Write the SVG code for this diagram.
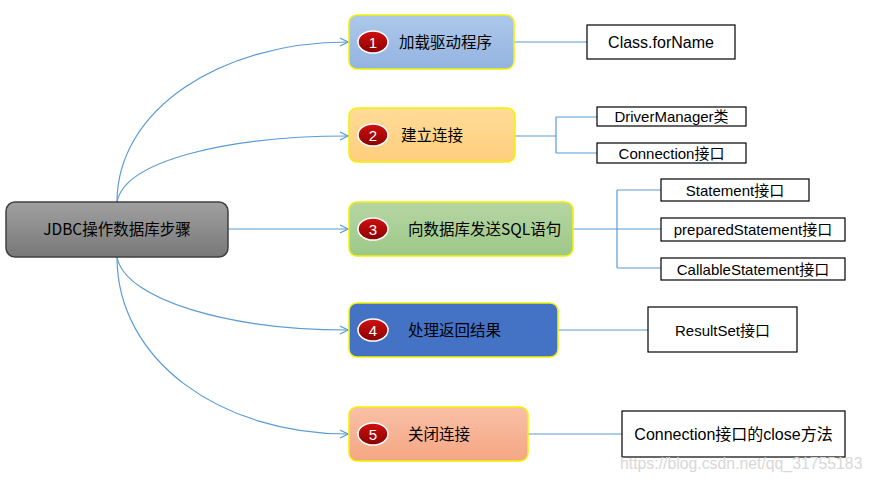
<svg xmlns="http://www.w3.org/2000/svg" width="873" height="482" viewBox="0 0 873 482">
<defs>
<linearGradient id="gMain" x1="0" y1="0" x2="0" y2="1"><stop offset="0" stop-color="#a0a0a0"/><stop offset="1" stop-color="#787878"/></linearGradient>
<linearGradient id="g1" x1="0" y1="0" x2="0" y2="1"><stop offset="0" stop-color="#adc8ea"/><stop offset="1" stop-color="#93b3e0"/></linearGradient>
<linearGradient id="g2" x1="0" y1="0" x2="0" y2="1"><stop offset="0" stop-color="#ffdc98"/><stop offset="1" stop-color="#ffce7c"/></linearGradient>
<linearGradient id="g3" x1="0" y1="0" x2="0" y2="1"><stop offset="0" stop-color="#b6d6a4"/><stop offset="1" stop-color="#9dc887"/></linearGradient>
<linearGradient id="g5" x1="0" y1="0" x2="0" y2="1"><stop offset="0" stop-color="#f9c0a6"/><stop offset="1" stop-color="#f4a683"/></linearGradient>
<linearGradient id="gBadge" x1="0" y1="0" x2="0" y2="1"><stop offset="0" stop-color="#d01010"/><stop offset="1" stop-color="#8a0000"/></linearGradient>
<marker id="arr" markerWidth="10" markerHeight="10" refX="9" refY="5" orient="auto" markerUnits="userSpaceOnUse">
<path d="M1,1 L9,5 L1,9" fill="none" stroke="#5b9bd5" stroke-width="1.2"/>
</marker>
</defs>
<style>
.conn{fill:none;stroke:#5b9bd5;stroke-width:1.2}
.step{stroke:#f2f200;stroke-width:1.5}
.badge{fill:url(#gBadge);stroke:#ffffff;stroke-width:1.5}
.num{font-family:"Liberation Sans","Noto Sans",sans-serif;font-size:15px;fill:#ffffff;text-anchor:middle}
.lbl{font-family:"Noto Sans CJK SC","Noto Sans",sans-serif;font-size:15.5px;fill:#000000}
.leaf{fill:#ffffff;stroke:#000000;stroke-width:1.2}
.ltxt{font-family:"Liberation Sans","Noto Sans CJK SC",sans-serif;font-size:15px;fill:#000000;text-anchor:middle}
.big{font-size:16px}
.wm{font-family:"Liberation Sans",sans-serif;font-size:15.8px;fill:#d8d8d8}
</style>
<rect width="873" height="482" fill="#ffffff"/>
<g id="connectors">
<path class="conn" d="M117,202 C117,110 220,42 348,42" marker-end="url(#arr)"/>
<path class="conn" d="M117,202 C125,160 230,136 348,136" marker-end="url(#arr)"/>
<path class="conn" d="M228,229 L348,229" marker-end="url(#arr)"/>
<path class="conn" d="M117,257 C125,300 230,330 348,330" marker-end="url(#arr)"/>
<path class="conn" d="M117,257 C117,360 220,434 348,434" marker-end="url(#arr)"/>
<path class="conn" d="M514,42 L587,42"/>
<path class="conn" d="M515,136 L556,136 M556,117 L556,153 M556,117 L597,117 M556,153 L597,153"/>
<path class="conn" d="M573,229 L661,229 M617,190 L617,268 M617,190 L661,190 M617,268 L661,268"/>
<path class="conn" d="M558,330 L648,330"/>
<path class="conn" d="M528,434 L622,434"/>
</g>
<g id="main">
<rect x="6" y="202" width="222" height="55" rx="9" fill="url(#gMain)" stroke="#404040" stroke-width="1.5"/>
<text class="lbl" x="117" y="235" text-anchor="middle" fill="#1a1a1a">JDBC操作数据库步骤</text>
</g>
<g id="step1">
<rect class="step" x="349" y="15" width="165" height="54" rx="8" fill="url(#g1)"/>
<ellipse class="badge" cx="373" cy="42" rx="15" ry="11"/>
<text class="num" x="373" y="47.5">1</text>
<text class="lbl" x="399" y="47.5">加载驱动程序</text>
</g>
<g id="step2">
<rect class="step" x="349" y="108" width="166" height="54" rx="8" fill="url(#g2)"/>
<ellipse class="badge" cx="373" cy="135" rx="15" ry="11"/>
<text class="num" x="373" y="140.5">2</text>
<text class="lbl" x="401" y="140.5">建立连接</text>
</g>
<g id="step3">
<rect class="step" x="349" y="202" width="224" height="54" rx="8" fill="url(#g3)"/>
<ellipse class="badge" cx="373" cy="229" rx="15" ry="11"/>
<text class="num" x="373" y="234.5">3</text>
<text class="lbl" x="408" y="234.5">向数据库发送SQL语句</text>
</g>
<g id="step4">
<rect class="step" x="349" y="303" width="209" height="54" rx="8" fill="#4472c4"/>
<ellipse class="badge" cx="373" cy="330" rx="15" ry="11"/>
<text class="num" x="373" y="335.5">4</text>
<text class="lbl" x="408" y="335.5">处理返回结果</text>
</g>
<g id="step5">
<rect class="step" x="349" y="407" width="179" height="54" rx="8" fill="url(#g5)"/>
<ellipse class="badge" cx="373" cy="434" rx="15" ry="11"/>
<text class="num" x="373" y="439.5">5</text>
<text class="lbl" x="408" y="439.5">关闭连接</text>
</g>
<g id="leaf-classforname">
<rect class="leaf" x="587" y="25" width="148" height="34"/>
<text class="ltxt big" x="661" y="47.5">Class.forName</text>
</g>
<g id="leaf-drivermanager">
<rect class="leaf" x="597" y="107" width="149" height="19"/>
<text class="ltxt" x="671.5" y="122">DriverManager类</text>
</g>
<g id="leaf-connection">
<rect class="leaf" x="597" y="143" width="149" height="20"/>
<text class="ltxt" x="671.5" y="158.5">Connection接口</text>
</g>
<g id="leaf-statement">
<rect class="leaf" x="661" y="179" width="148" height="22"/>
<text class="ltxt" x="735" y="195.5">Statement接口</text>
</g>
<g id="leaf-prepared">
<rect class="leaf" x="661" y="218" width="184" height="23"/>
<text class="ltxt" x="753" y="235">preparedStatement接口</text>
</g>
<g id="leaf-callable">
<rect class="leaf" x="661" y="258" width="184" height="22"/>
<text class="ltxt" x="753" y="274.5">CallableStatement接口</text>
</g>
<g id="leaf-resultset">
<rect class="leaf" x="648" y="307" width="149" height="45"/>
<text class="ltxt" x="722.5" y="335.5">ResultSet接口</text>
</g>
<g id="leaf-close">
<rect class="leaf" x="622" y="411" width="223" height="46"/>
<text class="ltxt big" x="733.5" y="439.5">Connection接口的close方法</text>
</g>
<text class="wm" x="620" y="469">https://blog.csdn.net/qq_31755183</text>
</svg>
